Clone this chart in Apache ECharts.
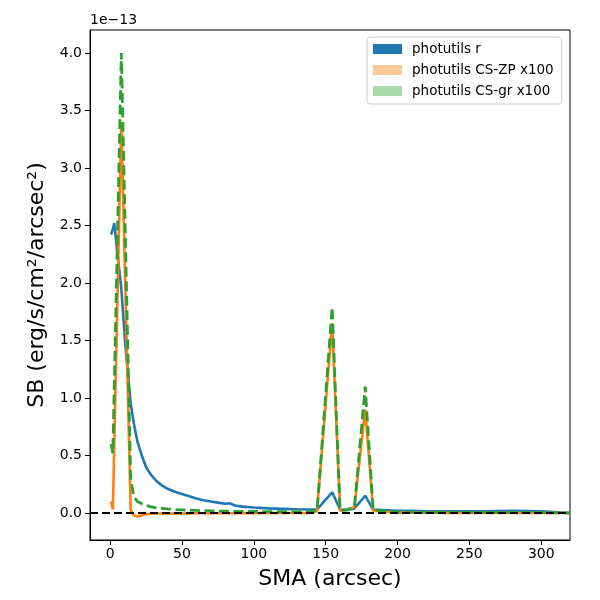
<!DOCTYPE html>
<html>
<head>
<meta charset="utf-8">
<script src="https://cdn.jsdelivr.net/npm/echarts@6/dist/echarts.min.js"></script>
<style>html,body{margin:0;padding:0;background:#fff}#c{width:600px;height:600px}</style>
</head>
<body>
<div id="c"></div>
<script>
// SMA (arcsec)
const sma = [0.7, 1.9, 2.9, 5.0, 7.8, 10.5, 14.3, 16.5, 19, 22, 25, 28, 32, 36, 40, 45, 50, 55, 60, 65, 70, 75, 80, 83, 87, 92, 100, 110, 120, 130, 140, 144, 149.5, 154.5, 160, 165, 170, 177.5, 183, 190, 200, 210, 220, 240, 260, 280, 300, 320];
// surface brightness in units of 1e-13
const photR = [2.42, 2.47, 2.52, 2.27, 1.95, 1.48, 0.95, 0.78, 0.62, 0.5, 0.4, 0.34, 0.28, 0.24, 0.21, 0.185, 0.165, 0.145, 0.125, 0.11, 0.1, 0.09, 0.08, 0.085, 0.065, 0.055, 0.047, 0.04, 0.036, 0.032, 0.03, 0.03, 0.11, 0.18, 0.03, 0.025, 0.04, 0.15, 0.03, 0.025, 0.02, 0.018, 0.015, 0.015, 0.015, 0.018, 0.015, 0.0];
const photCSZP = [0.1, 0.03, 0.6, 1.8, 3.4, 2.0, 0.03, -0.02, -0.03, -0.02, -0.01, -0.008, -0.005, -0.005, -0.005, -0.004, -0.004, -0.003, -0.003, -0.003, -0.002, -0.002, -0.002, -0.002, -0.002, -0.001, -0.001, 0.0, 0.0, 0.0, 0.0, 0.02, 0.87, 1.65, 0.02, 0.03, 0.05, 0.9, 0.02, 0.01, 0.005, 0.003, 0.002, 0.0, 0.0, 0.0, 0.0, 0.0];
const photCSGR = [0.6, 0.52, 1.11, 2.35, 4.0, 2.46, 0.3, 0.14, 0.1, 0.08, 0.065, 0.055, 0.045, 0.04, 0.035, 0.03, 0.027, 0.025, 0.022, 0.02, 0.018, 0.017, 0.016, 0.016, 0.015, 0.014, 0.013, 0.012, 0.011, 0.01, 0.01, 0.02, 0.95, 1.79, 0.02, 0.03, 0.05, 1.1, 0.03, 0.015, 0.01, 0.008, 0.008, 0.006, 0.005, 0.005, 0.003, 0.0];
const seriesNames = ['photutils r', 'photutils CS-ZP x100', 'photutils CS-gr x100'];
const xTicks = [0, 50, 100, 150, 200, 250, 300];
const yTicks = [0, 0.5, 1.0, 1.5, 2.0, 2.5, 3.0, 3.5, 4.0];

const FONT = 'DejaVu Sans';
const pairs = ys => sma.map((x, i) => [x, ys[i]]);

const chart = echarts.init(document.getElementById('c'), null, {renderer: 'canvas'});
chart.setOption({
  animation: false,
  backgroundColor: '#fff',
  textStyle: {fontFamily: FONT},
  grid: {left: 90, right: 30, top: 30, bottom: 60, show: true, borderColor: '#000', borderWidth: 1, backgroundColor: 'transparent'},
  graphic: [{
    type: 'text', left: 90, top: 13,
    style: {text: '1e\u221213', font: '14px "DejaVu Sans"', fill: '#000'}
  }],
  legend: {
    orient: 'vertical', left: 367, top: 37,
    padding: [5, 8, 6, 6],
    itemWidth: 29, itemHeight: 10, itemGap: 7,
    icon: 'rect',
    borderColor: '#cccccc', borderWidth: 1, borderRadius: 3,
    backgroundColor: 'rgba(255,255,255,0.8)',
    textStyle: {fontFamily: FONT, fontSize: 13.5, color: '#000', padding: [0, 0, 0, 5], lineHeight: 14},
    data: [
      {name: seriesNames[0], itemStyle: {color: '#1f77b4'}},
      {name: seriesNames[1], itemStyle: {color: '#ffc899'}},
      {name: seriesNames[2], itemStyle: {color: '#aad9aa'}}
    ]
  },
  xAxis: {
    type: 'value', min: -14, max: 320,
    name: 'SMA (arcsec)', nameLocation: 'middle', nameGap: 28,
    nameTextStyle: {fontFamily: FONT, fontSize: 22, color: '#000'},
    axisLine: {show: true, onZero: false, lineStyle: {color: '#000', width: 1}},
    axisTick: {show: true, length: 5, lineStyle: {color: '#000', width: 1}, customValues: xTicks},
    axisLabel: {color: '#000', fontSize: 14, fontFamily: FONT, margin: 7, customValues: xTicks, formatter: v => String(v)},
    splitLine: {show: false}
  },
  yAxis: {
    type: 'value', min: -0.235, max: 4.2,
    name: 'SB (erg/s/cm\u00b2/arcsec\u00b2)', nameLocation: 'middle', nameGap: 42,
    nameTextStyle: {fontFamily: FONT, fontSize: 22, color: '#000'},
    axisLine: {show: true, onZero: false, lineStyle: {color: '#000', width: 1}},
    axisTick: {show: true, length: 5, lineStyle: {color: '#000', width: 1}, customValues: yTicks},
    axisLabel: {color: '#000', fontSize: 14, fontFamily: FONT, margin: 8, customValues: yTicks, formatter: v => v.toFixed(1)},
    splitLine: {show: false}
  },
  series: [
    {
      name: 'zero', type: 'line', data: [], silent: true,
      markLine: {
        silent: true, symbol: ['none', 'none'], label: {show: false},
        lineStyle: {color: '#000', type: [8, 4], width: 2},
        data: [{yAxis: 0}]
      }
    },
    {
      name: seriesNames[0], type: 'line', data: pairs(photR), showSymbol: false, symbol: 'none',
      lineStyle: {color: '#1f77b4', width: 2.6}, itemStyle: {color: '#1f77b4'}
    },
    {
      name: seriesNames[1], type: 'line', data: pairs(photCSZP), showSymbol: false, symbol: 'none',
      lineStyle: {color: '#ff7f0e', width: 2.6}, itemStyle: {color: '#ff7f0e'}
    },
    {
      name: seriesNames[2], type: 'line', data: pairs(photCSGR), showSymbol: false, symbol: 'none',
      lineStyle: {color: '#2ca02c', width: 2.8, type: [10, 4.5]}, itemStyle: {color: '#2ca02c'}
    }
  ]
});
</script>
</body>
</html>
